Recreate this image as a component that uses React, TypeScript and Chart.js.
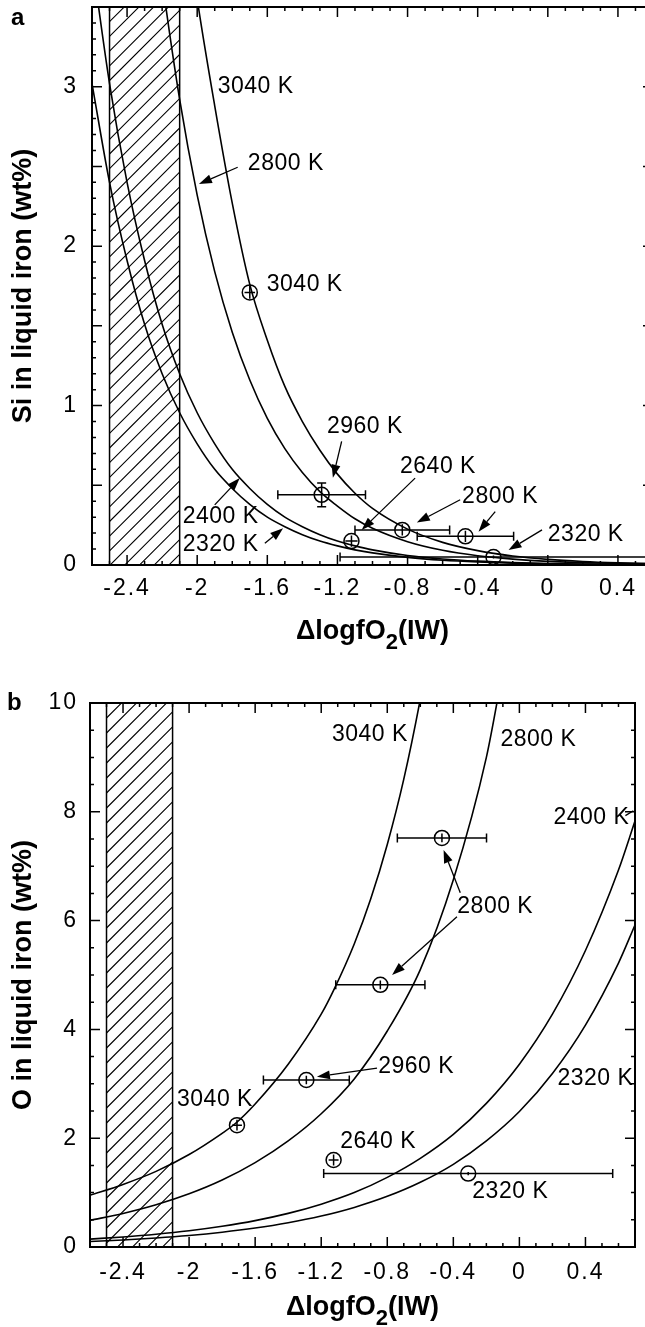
import { useEffect, useRef } from 'react';
import { Chart, registerables } from 'chart.js';

Chart.register(...registerables);

const FONT = '"Liberation Sans", Arial, Helvetica, sans-serif';

// ---------------- Panel a : Si in liquid iron ----------------
const siXTicks = [-2.4, -2, -1.6, -1.2, -0.8, -0.4, 0, 0.4];
const siXTickLabels = ['-2.4', '-2', '-1.6', '-1.2', '-0.8', '-0.4', '0', '0.4'];
const siYTicks = [0, 1, 2, 3];
const siYTickLabels = ['0', '1', '2', '3'];

const si3040X = [-2.05, -2.0, -1.9, -1.8, -1.7, -1.6, -1.5, -1.4, -1.3, -1.2, -1.1, -1.0, -0.8, -0.6, -0.4, -0.2, 0, 0.2, 0.4, 0.6];
const si3040Y = [3.95, 3.55, 2.88, 2.27, 1.76, 1.41, 1.12, 0.9, 0.72, 0.57, 0.45, 0.355, 0.225, 0.142, 0.09, 0.056, 0.035, 0.022, 0.014, 0.009];

const si2800X = [-2.25, -2.2, -2.1, -2.0, -1.9, -1.8, -1.7, -1.6, -1.5, -1.4, -1.3, -1.2, -1.1, -1.0, -0.8, -0.6, -0.4, -0.2, 0, 0.2, 0.4, 0.6];
const si2800Y = [4.1, 3.67, 2.92, 2.32, 1.84, 1.46, 1.16, 0.92, 0.73, 0.58, 0.46, 0.37, 0.29, 0.23, 0.146, 0.092, 0.058, 0.037, 0.023, 0.015, 0.009, 0.006];

const si2400X = [-2.6, -2.5, -2.4, -2.3, -2.2, -2.1, -2.0, -1.9, -1.8, -1.7, -1.6, -1.5, -1.4, -1.3, -1.2, -1.1, -1.0, -0.8, -0.6, -0.4, -0.2, 0, 0.2, 0.4, 0.6];
const si2400Y = [3.8, 3.02, 2.4, 1.91, 1.51, 1.2, 0.955, 0.76, 0.6, 0.48, 0.38, 0.3, 0.24, 0.19, 0.15, 0.12, 0.095, 0.06, 0.038, 0.024, 0.015, 0.0095, 0.006, 0.004, 0.0024];

const si2320X = [-2.6, -2.5, -2.4, -2.3, -2.2, -2.1, -2.0, -1.9, -1.8, -1.7, -1.6, -1.5, -1.4, -1.3, -1.2, -1.1, -1.0, -0.8, -0.6, -0.4, -0.2, 0, 0.2, 0.4, 0.6];
const si2320Y = [3.02, 2.4, 1.91, 1.51, 1.2, 0.955, 0.76, 0.6, 0.48, 0.38, 0.3, 0.24, 0.19, 0.15, 0.12, 0.095, 0.076, 0.048, 0.03, 0.019, 0.012, 0.0076, 0.0048, 0.003, 0.0019];

const siPointLabels = ['3040 K', '2960 K', '2640 K', '2800 K', '2800 K', '2320 K'];
const siPointX = [-1.7, -1.29, -1.12, -0.83, -0.47, -0.31];
const siPointY = [1.71, 0.44, 0.15, 0.22, 0.18, 0.05];
const siPointXErr = [0.03, 0.25, 0.035, 0.27, 0.275, 0.875];
const siPointYErr = [0.04, 0.075, 0.035, 0.035, 0.035, 0.01];

// ---------------- Panel b : O in liquid iron ----------------
const oXTicks = [-2.4, -2, -1.6, -1.2, -0.8, -0.4, 0, 0.4];
const oXTickLabels = ['-2.4', '-2', '-1.6', '-1.2', '-0.8', '-0.4', '0', '0.4'];
const oYTicks = [0, 2, 4, 6, 8, 10];
const oYTickLabels = ['0', '2', '4', '6', '8', '10'];

const o3040X = [-2.6, -2.4, -2.2, -2.0, -1.8, -1.72, -1.6, -1.4, -1.2, -1.12, -1.0, -0.9, -0.8, -0.7, -0.6, -0.5];
const o3040Y = [0.95, 1.15, 1.39, 1.7, 2.09, 2.27, 2.63, 3.36, 4.28, 4.75, 5.57, 6.4, 7.4, 8.6, 10.07, 11.8];

const o2800X = [-2.6, -2.4, -2.2, -2.0, -1.8, -1.6, -1.4, -1.2, -1.0, -0.8, -0.6, -0.4, -0.2, -0.1];
const o2800Y = [0.49, 0.617, 0.776, 0.977, 1.23, 1.55, 1.95, 2.45, 3.09, 3.97, 5.1, 6.75, 9.0, 10.6];

const o2400X = [-2.6, -2.4, -2.2, -2.0, -1.8, -1.6, -1.4, -1.2, -1.0, -0.8, -0.6, -0.4, -0.2, 0, 0.2, 0.4, 0.6, 0.7];
const o2400Y = [0.145, 0.185, 0.235, 0.299, 0.381, 0.485, 0.618, 0.787, 1.0, 1.28, 1.63, 2.07, 2.64, 3.36, 4.28, 5.45, 6.93, 7.83];

const o2320X = [-2.6, -2.4, -2.2, -2.0, -1.8, -1.6, -1.4, -1.2, -1.0, -0.8, -0.6, -0.4, -0.2, 0, 0.2, 0.4, 0.6, 0.7];
const o2320Y = [0.101, 0.13, 0.166, 0.212, 0.272, 0.348, 0.445, 0.569, 0.728, 0.931, 1.19, 1.52, 1.95, 2.49, 3.19, 4.08, 5.22, 5.92];

const oPointLabels = ['3040 K', '2960 K', '2640 K', '2800 K', '2800 K', '2320 K'];
const oPointX = [-1.71, -1.29, -1.125, -0.842, -0.469, -0.31];
const oPointY = [2.24, 3.07, 1.6, 4.82, 7.52, 1.35];
const oPointXErr = [0.03, 0.26, 0.03, 0.27, 0.27, 0.875];
const oPointYErr = [0.1, 0.08, 0.1, 0.08, 0.08, 0.03];

// hatched (excluded) fO2 range
const hatchRange = [-2.5, -2.1];

// ---------------- annotations (data coordinates) ----------------
type Note = { t: string; x: number; y: number; arrows?: number[][]; lines?: number[][] };

const siNotes: Note[] = [
  { t: '3040 K', x: -1.883, y: 3.0 },
  { t: '2800 K', x: -1.711, y: 2.516, arrows: [[-1.769, 2.495, -1.99, 2.39]] },
  { t: '3040 K', x: -1.603, y: 1.761 },
  { t: '2960 K', x: -1.26, y: 0.868, arrows: [[-1.176, 0.775, -1.226, 0.547]] },
  { t: '2640 K', x: -0.843, y: 0.616, arrows: [[-0.757, 0.545, -1.062, 0.22]] },
  { t: '2800 K', x: -0.489, y: 0.428, arrows: [[-0.5, 0.409, -0.747, 0.266], [-0.3, 0.335, -0.395, 0.209]] },
  { t: '2320 K', x: 0.0, y: 0.189, arrows: [[-0.033, 0.22, -0.224, 0.094]] },
  { t: '2400 K', x: -2.083, y: 0.302, arrows: [[-1.9, 0.377, -1.757, 0.545]] },
  { t: '2320 K', x: -2.083, y: 0.126, arrows: [[-1.614, 0.136, -1.51, 0.231]] },
];

const oNotes: Note[] = [
  { t: '3040 K', x: -1.135, y: 9.42 },
  { t: '2800 K', x: -0.115, y: 9.33 },
  { t: '2400 K', x: 0.206, y: 7.9, lines: [[0.642, 7.93, 0.69, 8.02]] },
  { t: '2800 K', x: -0.376, y: 6.25, arrows: [[-0.358, 6.51, -0.459, 7.3], [-0.378, 6.07, -0.771, 5.0]] },
  { t: '2960 K', x: -0.855, y: 3.31, arrows: [[-0.862, 3.29, -1.226, 3.13]] },
  { t: '3040 K', x: -2.073, y: 2.7 },
  { t: '2640 K', x: -1.085, y: 1.93 },
  { t: '2320 K', x: -0.285, y: 1.01 },
  { t: '2320 K', x: 0.23, y: 3.1 },
];

type Cfg = {
  letter: string;
  yTitle: string;
  curves: { x: number[]; y: number[]; name: string }[];
  px: number[]; py: number[]; pxe: number[]; pye: number[]; pl: string[];
  xMin: number; xMax: number; yMin: number; yMax: number;
  xTicks: number[]; xTickLabels: string[]; yTicks: number[]; yTickLabels: string[];
  yMinorStep: number; yMajorEvery: number;
  notes: Note[];
  width: number; height: number; padTop: number; padRight: number; yAxisW: number; xAxisH: number;
  yTickPad: number; xTickPad: number; xTitleOffset: number; yTitleX: number;
  letterX: number; letterY: number; hatchSpacing: number;
};

const panelA: Cfg = {
  letter: 'a',
  yTitle: 'Si in liquid iron (wt%)',
  curves: [
    { name: '3040 K', x: si3040X, y: si3040Y },
    { name: '2800 K', x: si2800X, y: si2800Y },
    { name: '2400 K', x: si2400X, y: si2400Y },
    { name: '2320 K', x: si2320X, y: si2320Y },
  ],
  px: siPointX, py: siPointY, pxe: siPointXErr, pye: siPointYErr, pl: siPointLabels,
  xMin: -2.6, xMax: 0.6, yMin: 0, yMax: 3.5,
  xTicks: siXTicks, xTickLabels: siXTickLabels, yTicks: siYTicks, yTickLabels: siYTickLabels,
  yMinorStep: 0.1, yMajorEvery: 0.5,
  notes: siNotes,
  width: 653, height: 660, padTop: 7, padRight: 0, yAxisW: 92, xAxisH: 95,
  yTickPad: 14, xTickPad: 9.5, xTitleOffset: 74, yTitleX: 31,
  letterX: 11, letterY: 25, hatchSpacing: 14.7,
};

const panelB: Cfg = {
  letter: 'b',
  yTitle: 'O in liquid iron (wt%)',
  curves: [
    { name: '3040 K', x: o3040X, y: o3040Y },
    { name: '2800 K', x: o2800X, y: o2800Y },
    { name: '2400 K', x: o2400X, y: o2400Y },
    { name: '2320 K', x: o2320X, y: o2320Y },
  ],
  px: oPointX, py: oPointY, pxe: oPointXErr, pye: oPointYErr, pl: oPointLabels,
  xMin: -2.6, xMax: 0.7, yMin: 0, yMax: 10,
  xTicks: oXTicks, xTickLabels: oXTickLabels, yTicks: oYTicks, yTickLabels: oYTickLabels,
  yMinorStep: 0.5, yMajorEvery: 2,
  notes: oNotes,
  width: 645, height: 667, padTop: 43, padRight: 10, yAxisW: 90, xAxisH: 80,
  yTickPad: 12, xTickPad: 12, xTitleOffset: 68, yTitleX: 31,
  letterX: 7, letterY: 50, hatchSpacing: 15,
};

function drawArrow(ctx: CanvasRenderingContext2D, x1: number, y1: number, x2: number, y2: number) {
  const a = Math.atan2(y2 - y1, x2 - x1);
  const len = 13;
  const hw = 4.5;
  const bx = x2 - len * Math.cos(a);
  const by = y2 - len * Math.sin(a);
  ctx.beginPath();
  ctx.moveTo(x1, y1);
  ctx.lineTo(bx, by);
  ctx.stroke();
  ctx.beginPath();
  ctx.moveTo(x2, y2);
  ctx.lineTo(bx + hw * Math.sin(a), by - hw * Math.cos(a));
  ctx.lineTo(bx - hw * Math.sin(a), by + hw * Math.cos(a));
  ctx.closePath();
  ctx.fill();
}

function near(v: number, step: number) {
  return Math.abs(v / step - Math.round(v / step)) < 1e-6;
}

function makePlugin(c: Cfg) {
  return {
    id: 'panelDecor',
    beforeDraw(chart: any) {
      chart.ctx.letterSpacing = '2px';
    },
    beforeDatasetsDraw(chart: any) {
      const ctx: CanvasRenderingContext2D = chart.ctx;
      ctx.letterSpacing = '0px';
      const { top, bottom } = chart.chartArea;
      const xs = chart.scales.x;
      const x0 = xs.getPixelForValue(hatchRange[0]);
      const x1 = xs.getPixelForValue(hatchRange[1]);
      const w = x1 - x0;
      ctx.save();
      ctx.beginPath();
      ctx.rect(x0, top, w, bottom - top);
      ctx.clip();
      ctx.strokeStyle = '#000';
      ctx.lineWidth = 1.1;
      ctx.beginPath();
      for (let cy = top; cy < bottom + w + c.hatchSpacing; cy += c.hatchSpacing) {
        ctx.moveTo(x0, cy);
        ctx.lineTo(x1, cy - w);
      }
      ctx.stroke();
      ctx.restore();
      ctx.save();
      ctx.strokeStyle = '#000';
      ctx.lineWidth = 1.5;
      ctx.beginPath();
      ctx.moveTo(x0, top);
      ctx.lineTo(x0, bottom);
      ctx.moveTo(x1, top);
      ctx.lineTo(x1, bottom);
      ctx.stroke();
      ctx.restore();
    },
    afterDatasetsDraw(chart: any) {
      const ctx: CanvasRenderingContext2D = chart.ctx;
      const { left, right, top, bottom } = chart.chartArea;
      const xs = chart.scales.x;
      const ys = chart.scales.y;
      ctx.save();
      ctx.beginPath();
      ctx.rect(left, top, right - left, bottom - top);
      ctx.clip();
      ctx.strokeStyle = '#000';
      ctx.lineWidth = 1.5;
      const r = 7.5;
      for (let i = 0; i < c.px.length; i++) {
        const cx = xs.getPixelForValue(c.px[i]);
        const cy = ys.getPixelForValue(c.py[i]);
        const xa = xs.getPixelForValue(c.px[i] - c.pxe[i]);
        const xb = xs.getPixelForValue(c.px[i] + c.pxe[i]);
        const ya = ys.getPixelForValue(c.py[i] + c.pye[i]);
        const yb = ys.getPixelForValue(c.py[i] - c.pye[i]);
        ctx.beginPath();
        ctx.moveTo(xa, cy);
        ctx.lineTo(xb, cy);
        ctx.moveTo(cx, ya);
        ctx.lineTo(cx, yb);
        if (cx - xa > r) {
          ctx.moveTo(xa, cy - 4.5);
          ctx.lineTo(xa, cy + 4.5);
          ctx.moveTo(xb, cy - 4.5);
          ctx.lineTo(xb, cy + 4.5);
        }
        if (cy - ya > r) {
          ctx.moveTo(cx - 4.5, ya);
          ctx.lineTo(cx + 4.5, ya);
          ctx.moveTo(cx - 4.5, yb);
          ctx.lineTo(cx + 4.5, yb);
        }
        ctx.stroke();
      }
      ctx.restore();
    },
    afterDraw(chart: any) {
      const ctx: CanvasRenderingContext2D = chart.ctx;
      const { left, right, top, bottom } = chart.chartArea;
      const xs = chart.scales.x;
      const ys = chart.scales.y;
      ctx.save();
      ctx.letterSpacing = '0px';
      ctx.strokeStyle = '#000';
      ctx.fillStyle = '#000';

      // inward tick marks on all four sides
      ctx.lineWidth = 1.5;
      ctx.beginPath();
      const k0 = Math.ceil(c.xMin * 10 - 1e-6);
      const k1 = Math.floor(c.xMax * 10 + 1e-6);
      for (let k = k0; k <= k1; k++) {
        const v = k / 10;
        const major = c.xTicks.some((t) => Math.abs(t - v) < 1e-6);
        const len = major ? 10 : 4;
        const p = xs.getPixelForValue(v);
        ctx.moveTo(p, bottom);
        ctx.lineTo(p, bottom - len);
        ctx.moveTo(p, top);
        ctx.lineTo(p, top + len);
      }
      const n = Math.round((c.yMax - c.yMin) / c.yMinorStep);
      for (let k = 0; k <= n; k++) {
        const v = c.yMin + k * c.yMinorStep;
        const major = near(v, c.yMajorEvery);
        const len = major ? 10 : 4;
        const p = ys.getPixelForValue(v);
        ctx.moveTo(left, p);
        ctx.lineTo(left + len, p);
        ctx.moveTo(right, p);
        ctx.lineTo(right - len, p);
      }
      ctx.stroke();

      // frame
      ctx.lineWidth = 2;
      ctx.strokeRect(left, top, right - left, bottom - top);

      // annotations
      ctx.font = `23px ${FONT}`;
      ctx.letterSpacing = '0.5px';
      ctx.textAlign = 'left';
      ctx.textBaseline = 'middle';
      ctx.lineWidth = 1.3;
      for (const nt of c.notes) {
        ctx.fillText(nt.t, xs.getPixelForValue(nt.x), ys.getPixelForValue(nt.y));
        for (const a of nt.arrows || []) {
          drawArrow(ctx, xs.getPixelForValue(a[0]), ys.getPixelForValue(a[1]), xs.getPixelForValue(a[2]), ys.getPixelForValue(a[3]));
        }
        for (const l of nt.lines || []) {
          ctx.beginPath();
          ctx.moveTo(xs.getPixelForValue(l[0]), ys.getPixelForValue(l[1]));
          ctx.lineTo(xs.getPixelForValue(l[2]), ys.getPixelForValue(l[3]));
          ctx.stroke();
        }
      }
      ctx.letterSpacing = '0px';

      // x axis title with subscript
      const big = `bold 27px ${FONT}`;
      const small = `bold 22px ${FONT}`;
      ctx.textBaseline = 'alphabetic';
      ctx.font = big;
      const w1 = ctx.measureText('ΔlogfO').width;
      const w3 = ctx.measureText('(IW)').width;
      ctx.font = small;
      const w2 = ctx.measureText('2').width;
      let tx = (left + right) / 2 - (w1 + w2 + w3) / 2;
      const ty = bottom + c.xTitleOffset;
      ctx.font = big;
      ctx.fillText('ΔlogfO', tx, ty);
      tx += w1;
      ctx.font = small;
      ctx.fillText('2', tx, ty + 10);
      tx += w2;
      ctx.font = big;
      ctx.fillText('(IW)', tx, ty);

      // y axis title
      ctx.save();
      ctx.translate(c.yTitleX, (top + bottom) / 2);
      ctx.rotate(-Math.PI / 2);
      ctx.textAlign = 'center';
      ctx.font = big;
      ctx.fillText(c.yTitle, 0, 0);
      ctx.restore();

      // panel letter
      ctx.font = `bold 24px ${FONT}`;
      ctx.textAlign = 'left';
      ctx.fillText(c.letter, c.letterX, c.letterY);
      ctx.restore();
    },
  };
}

function Panel({ cfg, top }: { cfg: Cfg; top: number }) {
  const ref = useRef<HTMLCanvasElement | null>(null);
  useEffect(() => {
    const canvas = ref.current;
    if (!canvas) return;
    const datasets: any[] = cfg.curves.map((cv) => ({
      label: cv.name,
      data: cv.x.map((x, i) => ({ x, y: cv.y[i] })),
      showLine: true,
      borderColor: '#000',
      borderWidth: 1.6,
      pointRadius: 0,
      pointHoverRadius: 0,
      cubicInterpolationMode: 'monotone',
      fill: false,
    }));
    datasets.push({
      label: 'data',
      data: cfg.px.map((x, i) => ({ x, y: cfg.py[i] })),
      showLine: false,
      pointRadius: 7.5,
      pointHoverRadius: 7.5,
      pointBorderWidth: 1.5,
      pointBorderColor: '#000',
      pointBackgroundColor: 'rgba(0,0,0,0)',
    });
    const zeroPad = (s: any) => {
      s.paddingTop = 0;
      s.paddingBottom = 0;
      s.paddingLeft = 0;
      s.paddingRight = 0;
    };
    const chart = new Chart(canvas, {
      type: 'scatter',
      data: { datasets },
      options: {
        responsive: false,
        animation: false,
        devicePixelRatio: 1,
        events: [],
        layout: { padding: { left: 0, top: cfg.padTop, right: cfg.padRight, bottom: 0 }, autoPadding: false },
        plugins: { legend: { display: false }, tooltip: { enabled: false }, title: { display: false } },
        scales: {
          x: {
            type: 'linear',
            position: 'bottom',
            min: cfg.xMin,
            max: cfg.xMax,
            afterBuildTicks: (s: any) => {
              s.ticks = cfg.xTicks.map((v) => ({ value: v }));
            },
            afterFit: (s: any) => {
              s.height = cfg.xAxisH;
              zeroPad(s);
            },
            grid: { display: false, drawTicks: false },
            border: { display: false },
            ticks: {
              color: '#000',
              font: { family: FONT, size: 23 },
              padding: cfg.xTickPad,
              autoSkip: false,
              maxRotation: 0,
              minRotation: 0,
              callback: (_v: any, i: number) => cfg.xTickLabels[i],
            },
          },
          y: {
            type: 'linear',
            position: 'left',
            min: cfg.yMin,
            max: cfg.yMax,
            afterBuildTicks: (s: any) => {
              s.ticks = cfg.yTicks.map((v) => ({ value: v }));
            },
            afterFit: (s: any) => {
              s.width = cfg.yAxisW;
              zeroPad(s);
            },
            grid: { display: false, drawTicks: false },
            border: { display: false },
            ticks: {
              color: '#000',
              font: { family: FONT, size: 23 },
              padding: cfg.yTickPad,
              autoSkip: false,
              callback: (_v: any, i: number) => cfg.yTickLabels[i],
            },
          },
        },
      } as any,
      plugins: [makePlugin(cfg)],
    });
    return () => chart.destroy();
  }, [cfg]);
  return (
    <canvas
      ref={ref}
      width={cfg.width}
      height={cfg.height}
      style={{ position: 'absolute', left: 0, top, width: cfg.width, height: cfg.height, display: 'block' }}
    />
  );
}

export default function App() {
  return (
    <div
      style={{
        position: 'absolute',
        left: 0,
        top: 0,
        width: 645,
        height: 1327,
        overflow: 'hidden',
        background: '#fff',
      }}
    >
      <Panel cfg={panelA} top={0} />
      <Panel cfg={panelB} top={660} />
    </div>
  );
}
